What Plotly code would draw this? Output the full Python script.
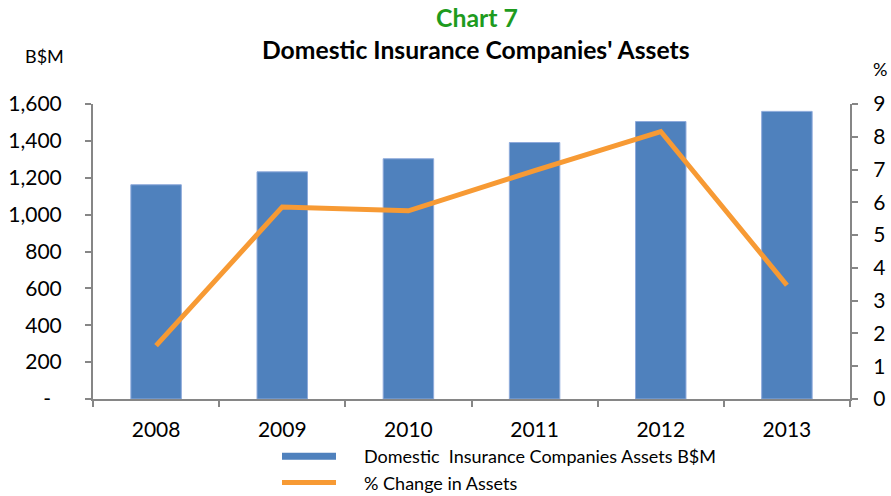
import plotly.graph_objects as go

years = ["2008", "2009", "2010", "2011", "2012", "2013"]
assets_bsm = [1162, 1232, 1303, 1391, 1505, 1560]
pct_change = [1.63, 5.86, 5.74, 6.97, 8.16, 3.47]

left_tickvals = [0, 200, 400, 600, 800, 1000, 1200, 1400, 1600]
left_ticktext = ["-\u00a0\u00a0", "200", "400", "600", "800", "1,000", "1,200", "1,400", "1,600"]
right_tickvals = [0, 1, 2, 3, 4, 5, 6, 7, 8, 9]

bar_name = "Domestic  Insurance Companies Assets B$M"
line_name = "% Change in Assets"

FONT = "Lato, Calibri, Carlito, sans-serif"
AXIS_COLOR = "#868686"
BAR_COLOR = "#4F81BD"
LINE_COLOR = "#F79A34"
W, H = 891, 496
ML, MR, MT, MB = 93, 41, 104, 97
PAD = "\u00a0" * 5

fig = go.Figure()
fig.add_trace(go.Bar(
    x=years, y=assets_bsm, name=bar_name, showlegend=False,
    marker=dict(color=BAR_COLOR, line=dict(color="#8EAADB", width=1)),
    width=0.4, yaxis="y",
))
# legend key for the bars drawn as a wide flat swatch (as in the reference)
fig.add_trace(go.Scatter(
    x=[None], y=[None], name=PAD + bar_name, mode="lines",
    line=dict(color=BAR_COLOR, width=7), yaxis="y", hoverinfo="skip",
))
fig.add_trace(go.Scatter(
    x=years, y=pct_change, name=PAD + line_name, mode="lines",
    line=dict(color=LINE_COLOR, width=5), yaxis="y2",
))

fig.update_layout(
    width=W, height=H,
    margin=dict(l=ML, r=MR, t=MT, b=MB, autoexpand=False),
    paper_bgcolor="white", plot_bgcolor="white",
    font=dict(family=FONT, size=21, color="#000000"),
    showlegend=True,
    legend=dict(
        xref="container", yref="container",
        x=277 / W, y=1 - 438 / H, xanchor="left", yanchor="top",
        orientation="v", font=dict(size=18), itemwidth=54,
        bgcolor="rgba(0,0,0,0)", tracegroupgap=0,
    ),
    xaxis=dict(
        type="category", showgrid=False, showline=True, linecolor=AXIS_COLOR, linewidth=2,
        ticks="outside", tickson="boundaries", ticklen=6, tickcolor=AXIS_COLOR, tickwidth=2,
        tickfont=dict(size=21), ticklabelstandoff=11,
    ),
    yaxis=dict(
        range=[0, 1600], tickvals=left_tickvals, ticktext=left_ticktext,
        showgrid=False, showline=True, linecolor=AXIS_COLOR, linewidth=2,
        ticks="outside", ticklen=6, tickcolor=AXIS_COLOR, tickwidth=2,
        tickfont=dict(size=21), zeroline=False, ticklabelstandoff=19,
    ),
    yaxis2=dict(
        range=[0, 9], tickvals=right_tickvals, overlaying="y", side="right",
        showgrid=False, showline=True, linecolor=AXIS_COLOR, linewidth=2,
        ticks="outside", ticklen=6, tickcolor=AXIS_COLOR, tickwidth=2,
        tickfont=dict(size=21), zeroline=False, ticklabelstandoff=11,
    ),
)

pw = W - ML - MR
ph = H - MT - MB


def px_to_paper(px, py):
    return (px - ML) / pw, (H - MB - py) / ph


ann_specs = [
    ("<b>Chart 7</b>", 477, 18, 24.8, "#1E9B1E"),
    ("<b>Domestic Insurance Companies' Assets</b>", 476, 49, 24.7, "#000000"),
    ("B$M", 44, 56, 18, "#000000"),
    ("%", 880, 69, 18, "#000000"),
]
anns = []
for text, px, py, size, color in ann_specs:
    x, y = px_to_paper(px, py)
    anns.append(dict(text=text, x=x, y=y, xref="paper", yref="paper", showarrow=False,
                     xanchor="center", yanchor="middle", font=dict(size=size, color=color)))
fig.update_layout(annotations=anns)

fig.write_html(
    "out.html",
    config={"displayModeBar": False},
    post_script="document.body.style.margin='0';document.body.style.overflow='hidden';",
)
